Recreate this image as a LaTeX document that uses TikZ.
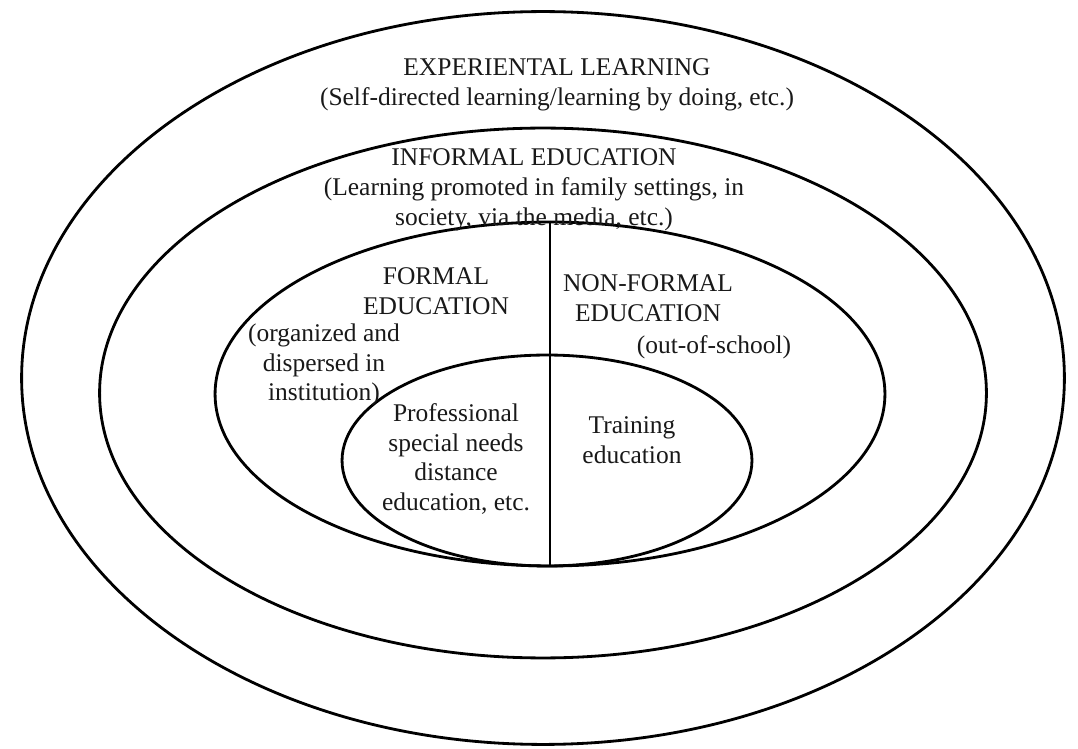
\documentclass[tikz,border=0pt]{standalone}
\usepackage{fontspec}
\setmainfont{Liberation Serif}
\usetikzlibrary{shapes.geometric,positioning}

\begin{document}
\begin{tikzpicture}[
  x=0.02cm, y=-0.02cm,
  ring/.style={draw, ellipse, line width=1.6pt, inner sep=0pt},
  txt/.style={align=center, inner sep=0pt, text=black!90, font=\fontsize{14.5}{17}\selectfont}
]
\useasboundingbox (0,0) rectangle (1078,749);

% nested circles of learning
\node[ring, minimum width=20.86cm, minimum height=14.66cm] (experiential) at (543,378) {};
\node[ring, minimum width=17.74cm, minimum height=10.6cm] (informal) at (543,393) {};
\node[ring, minimum width=13.4cm, minimum height=6.88cm] (schooling) at (550,394) {};
\node[ring, minimum width=8.2cm, minimum height=4.22cm] (special) at (547,460.5) {};
\draw[line width=1.3pt] (schooling.north) -- (schooling.south);

\node[txt] (exptxt) at (557,85) {EXPERIENTAL LEARNING\\(Self-directed learning/learning by doing, etc.)};
\node[txt] (inftxt) at (534,190) {INFORMAL EDUCATION\\(Learning promoted in family settings, in\\society, via the media, etc.)};
\node[txt] (formal) at (436,291) {FORMAL\\EDUCATION};
\node[txt] (organized) at (324,365) {(organized and\\dispersed in\\institution)};
\node[txt] (nonformal) at (648,298) {NON-FORMAL\\EDUCATION};
\node[txt] (outschool) at (714,347) {(out-of-school)};
\node[txt] (professional) at (456,459) {Professional\\special needs\\distance\\education, etc.};
\node[txt] (training) at (632,440) {Training\\education};
\end{tikzpicture}
\end{document}
